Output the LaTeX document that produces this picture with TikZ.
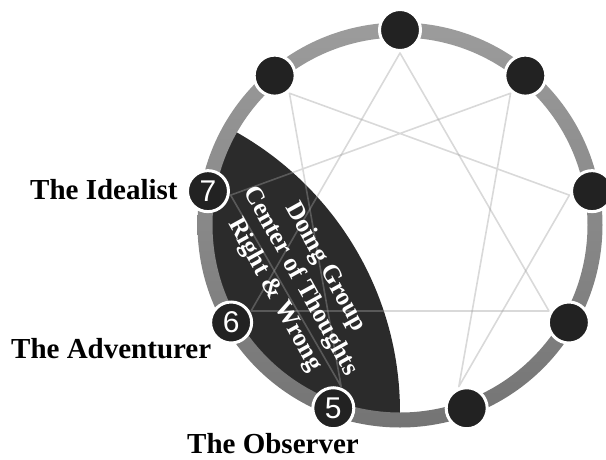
\documentclass[tikz,border=0pt]{standalone}
\usepackage{fontspec}
\setmainfont{Liberation Serif}
\newfontfamily\numfont{Liberation Sans}
\usepackage{tikz}
\usetikzlibrary{positioning,calc}

\definecolor{dotgray}{HTML}{222222}
\definecolor{lensgray}{HTML}{2B2B2B}
\definecolor{ringtop}{HTML}{9C9C9C}
\definecolor{ringbot}{HTML}{747474}
\definecolor{chordgray}{HTML}{A0A0A0}

\begin{document}
\begin{tikzpicture}[x=1pt, y=-1pt,
  dot/.style    ={circle, fill=dotgray, draw=white, line width=3pt,
                  minimum size=41pt, inner sep=0pt, text=white,
                  font=\numfont\fontsize{30}{30}\selectfont},
  lbl/.style    ={font=\bfseries\fontsize{29}{32}\selectfont,
                  inner sep=0pt},
  lenstext/.style={align=center, inner sep=0pt, rotate=-61, text=white,
                  font=\bfseries\fontsize{25.5}{29}\selectfont},
  chord/.style  ={draw=chordgray, draw opacity=0.4, line width=1.6pt,
                  line join=round},
]
\useasboundingbox (0,0) rectangle (606,459);
\coordinate (c) at (400,225);

% === Doing group lens ===
\begin{scope}
  \clip (c) circle (195);
  \fill[lensgray] (79,412) circle (321);
\end{scope}

% === Chords ===
\foreach \k in {1,...,9}
  \coordinate (p\k) at ($(c)+({40*\k-90}:172)$);
\draw[chord] (p9) -- (p3) -- (p6) -- cycle;
\draw[chord] (p1) -- (p4) -- (p2) -- (p8) -- (p5) -- (p7) -- cycle;

% === Ring ===
\shade[top color=ringtop, bottom color=ringbot, even odd rule]
  (c) circle (202.5) (c) circle (187.5);

% === Points ===
\foreach \k in {1,2,3,4,8,9}
  \node[dot] (n\k) at ($(c)+({40*\k-90}:195)$) {};
\foreach \k in {5,6,7}
  \node[dot] (n\k) at ($(c)+({40*\k-90}:195)$) {\k};

% === Lens text ===
\node[lenstext] (lens) at (300,281)
  {Doing Group\\Center of Thoughts\\Right \& Wrong};

% === Labels ===
\node[lbl, anchor=base west] (ideal) at (30,199) {The Idealist};
\node[lbl, anchor=base west] (adv) at (11,358) {The Adventurer};
\node[lbl, anchor=base west] (obs) at (187,453) {The Observer};

\end{tikzpicture}
\end{document}
